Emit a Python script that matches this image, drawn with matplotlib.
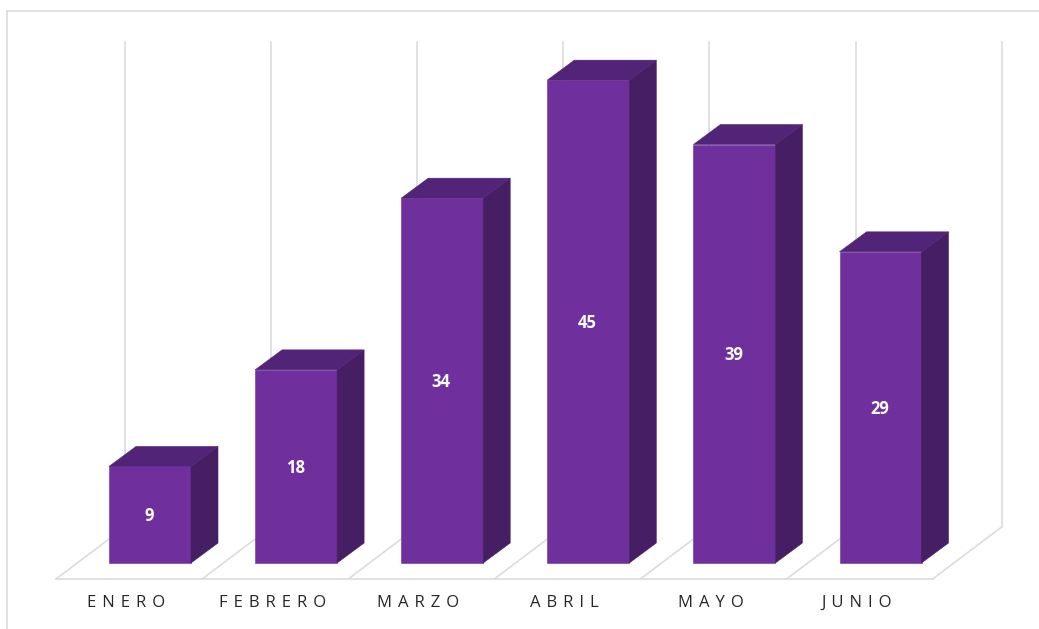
import numpy as np
import matplotlib
matplotlib.use('Agg')
import matplotlib.pyplot as plt
from matplotlib.patches import Polygon

plt.rcParams['font.family'] = ['Open Sans', 'DejaVu Sans']

months = ['ENERO', 'FEBRERO', 'MARZO', 'ABRIL', 'MAYO', 'JUNIO']
values = [9, 18, 34, 45, 39, 29]

W, H = 1039, 629
slot_px = 146.1   # one category
unit_px = 10.73   # one value unit
x0_px = 150       # centre of first bar
y0_px = 563       # front base of the bars

front = '#6f2f9d'
side = '#461e63'
top = '#522478'
grid = '#dcdcdc'

fig = plt.figure(figsize=(W / 100, H / 100), dpi=100)
ax = fig.add_axes([0, 0, 1, 1])
ax.set_xlim(-x0_px / slot_px, (W - x0_px) / slot_px)
ax.set_ylim((y0_px - H) / unit_px, y0_px / unit_px)
ax.axis('off')

# fake 3d depth of bars and of the floor
dx, dy = 27 / slot_px, 20 / unit_px
floor_dx, floor_dy = 69 / slot_px, 52 / unit_px
floor_x = (56 - x0_px) / slot_px
floor_y = -16 / unit_px
wall_top = (y0_px - 42) / unit_px

x = np.arange(len(values))
bw = 82 / slot_px

# walls and floor
for i in range(len(values) + 1):
    xf = floor_x + i
    ax.plot([xf, xf + floor_dx], [floor_y, floor_y + floor_dy], color=grid, lw=1.2, zorder=1)
    ax.plot([xf + floor_dx, xf + floor_dx], [floor_y + floor_dy, wall_top], color=grid, lw=1.2, zorder=1)
ax.plot([floor_x, floor_x + len(values)], [floor_y, floor_y], color=grid, lw=1.2, zorder=1)

# bars
ax.bar(x, values, width=bw, color=front, edgecolor=front, lw=0.4, zorder=3)
for xi, v in zip(x, values):
    r = xi + bw / 2
    l = xi - bw / 2
    ax.add_patch(Polygon([(r, 0), (r + dx, dy), (r + dx, v + dy), (r, v)], fc=side, ec=side, lw=0.4, zorder=3))
    ax.add_patch(Polygon([(l, v), (l + dx, v + dy), (r + dx, v + dy), (r, v)], fc=top, ec=top, lw=0.4, zorder=3))
    ax.text(xi - 1 / slot_px, v / 2 - 1.5 / unit_px, str(v), color='white', fontsize=12, fontweight='bold',
            ha='center', va='center', zorder=4)

# month labels with letter spacing
for xi, m in zip(x, months):
    ax.text(xi - 24 / slot_px, -44 / unit_px, ' \u200a'.join(m), color='#262626', fontsize=12,
            ha='center', va='baseline')

# outer frame of the picture
fig.add_artist(plt.Line2D([7 / W, 7 / W], [0, 1 - 11 / H], color=grid, lw=1.2))
fig.add_artist(plt.Line2D([7 / W, 1], [1 - 11 / H, 1 - 11 / H], color=grid, lw=1.2))

fig.savefig('out.png', dpi=100)
